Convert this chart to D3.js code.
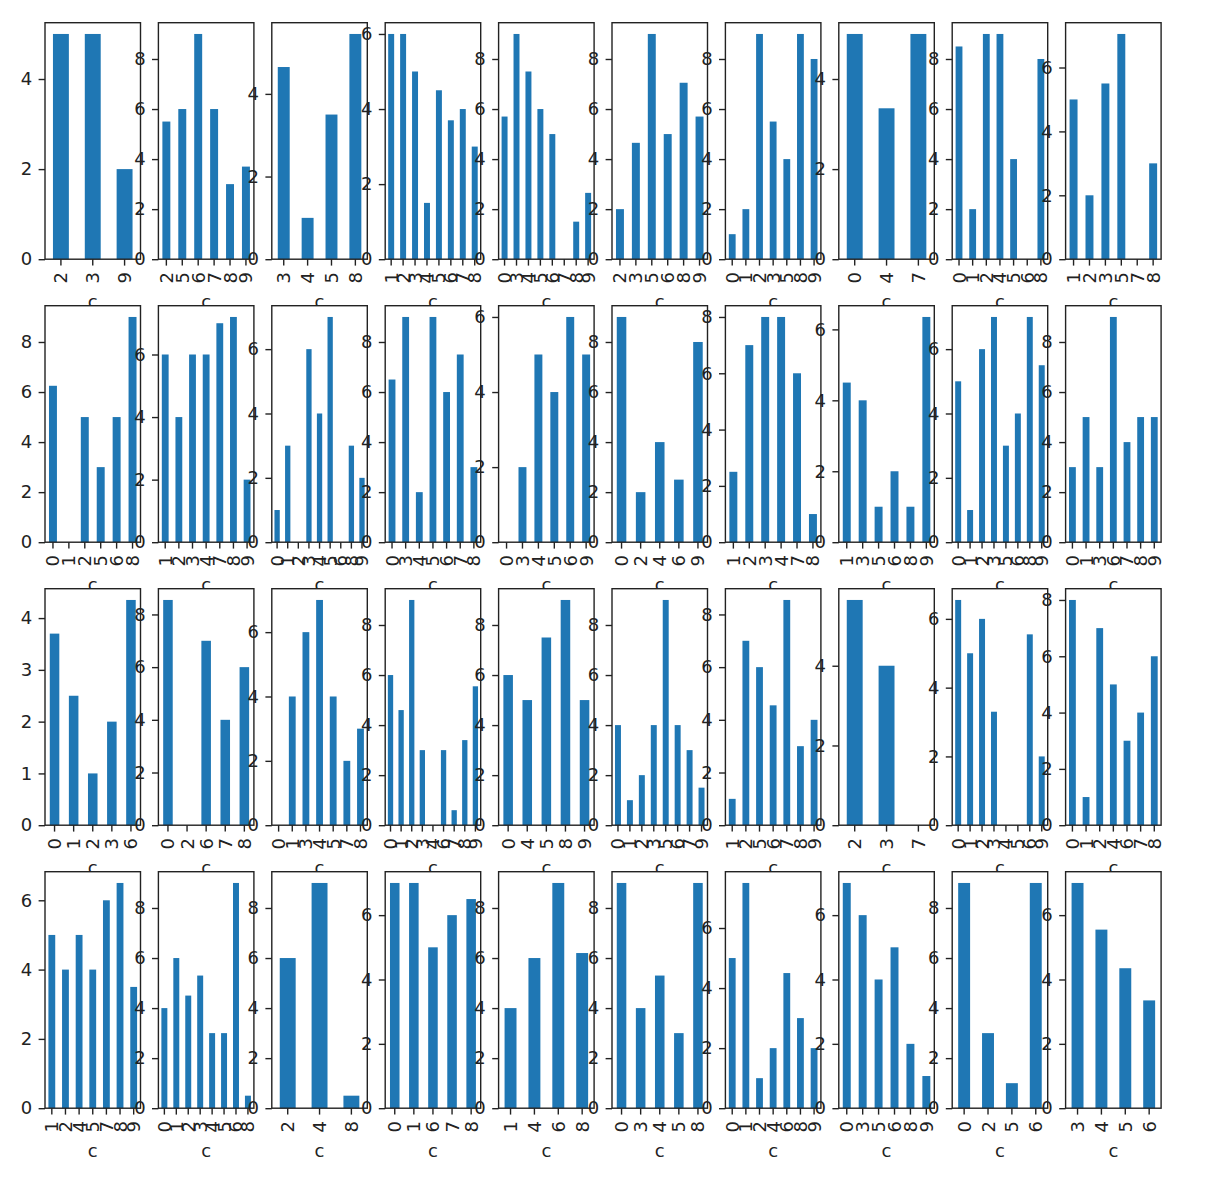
<!DOCTYPE html>
<html>
<head>
<meta charset="utf-8">
<script src="https://cdn.jsdelivr.net/npm/d3@7"></script>
<style>
  body { margin: 0; background: #fff; }
  text { font-family: "DejaVu Sans", sans-serif; fill: #222; }
</style>
</head>
<body>
<div id="chart"></div>
<script>
// categories (x tick labels) and bar heights, one entry per small panel, row by row
var cats1 = [[2,3,9],[2,5,6,7,8,9],[3,4,5,8],[1,2,3,4,5,6,7,8],[0,3,4,5,6,7,8,9],
             [2,3,5,6,8,9],[0,1,2,3,5,8,9],[0,4,7],[0,1,2,4,5,6,8],[1,2,3,5,7,8]];
var vals1 = [[5,5,2],[5.5,6,9,6,3,3.7],[4.65,1,3.5,5.45],[6,6,5,1.5,4.5,3.7,4,3],[5.7,9,7.5,6,5,0,1.5,2.65],
             [2,4.65,9,5,7.05,5.7],[1,2,9,5.5,4,9,8],[5,3.35,5],[8.5,2,9,9,4,0,8],[5,2,5.5,7.05,0,3]];

var cats2 = [[0,1,2,5,6,8],[1,2,3,4,7,8,9],[0,1,2,3,4,5,6,8,9],[0,3,4,5,6,7,8],[0,3,4,5,6,9],
             [0,2,4,6,9],[1,2,3,4,7,8],[1,3,5,6,8,9],[0,1,2,3,5,6,8,9],[0,1,3,6,7,8,9]];
var vals2 = [[6.25,0,5,3,5,9],[6,4,6,6,7,7.2,2],[1,3,0,6,4,7,0,3,2],[6.5,9,2,9,6,7.5,3],[0,2,5,4,6,5],
             [9,2,4,2.5,8],[2.5,7,8,8,6,1],[4.5,4,1,2,1,6.35],[5,1,6,7,3,4,7,5.5],[3,5,3,9,4,5,5]];

var cats3 = [[0,1,2,3,6],[0,2,6,7,8],[0,1,3,4,5,7,8],[0,1,2,3,4,6,7,8,9],[0,4,5,8,9],
             [0,1,2,3,5,6,7,9],[1,2,5,6,7,8,9],[2,3,7],[0,1,2,3,4,5,6,9],[0,1,2,4,6,7,8]];
var vals3 = [[3.7,2.5,1,2,4.35],[8.55,0,7,4,6],[0,4,6,7,4,2,3],[6,4.6,9,3,0,3,0.6,3.4,5.55],[6,5,7.5,9,5],
             [4,1,2,4,9,4,3,1.5],[1,7,6,4.55,8.55,3,4],[5.65,4,0],[6.55,5,6,3.3,0,0,5.55,2],[8,1,7,5,3,4,6]];

var cats4 = [[1,2,4,5,7,8,9],[0,1,2,3,4,5,6,8],[2,4,8],[0,1,6,7,8],[1,4,6,8],
             [0,3,4,5,8],[0,1,2,4,6,8,9],[0,3,5,6,8,9],[0,2,5,6],[3,4,5,6]];
var vals4 = [[5,4,5,4,6,6.5,3.5],[4,6,4.5,5.3,3,3,9,0.5],[6,9,0.5],[7,7,5,6,6.5],[4,6,9,6.2],
             [9,4,5.3,3,9],[5,7.5,1,2,4.5,3,2],[7,6,4,5,2,1],[9,3,1,9],[7,5.55,4.35,3.35]];

var xLabel = "c";

var rows = [[cats1, vals1], [cats2, vals2], [cats3, vals3], [cats4, vals4]];

var width = 1206, height = 1178,
    left0 = 45, colStep = 113.4, axW = 95.5,
    top0 = 22.7, rowStep = 283, axH = 236.5,
    tickLen = 6.4, tickPad = 6.4,
    fontSize = 18,
    lineColor = "#222",
    barColor = "#1f77b4";

// matplotlib-like tick step: smallest nice step >= range / 5
function niceStep(top) {
  var raw = top / 5,
      p = Math.pow(10, Math.floor(Math.log10(raw)));
  return [1, 2, 2.5, 5, 10].map(function(m) { return m * p; })
    .find(function(v) { return v >= raw - 1e-9; });
}

var svg = d3.select("#chart")
  .append("svg")
  .attr("width", width)
  .attr("height", height);

svg.append("rect").attr("width", width).attr("height", height).attr("fill", "#fff");

rows.forEach(function(row, r) {
  var cats = row[0], vals = row[1];
  cats.forEach(function(labels, c) {
    var values = vals[c];
    var g = svg.append("g")
      .attr("transform", "translate(" + (left0 + colStep * c) + "," + (top0 + rowStep * r) + ")");

    var x = d3.scaleBand()
      .domain(labels)
      .range([0, axW])
      .paddingInner(0.5)
      .paddingOuter(0.25);

    var yMax = d3.max(values) * 1.05;
    var y = d3.scaleLinear().domain([0, yMax]).range([axH, 0]);
    var step = niceStep(yMax);
    var yTicks = d3.range(0, yMax + 1e-9, step);

    // axes background
    g.append("rect")
      .attr("width", axW)
      .attr("height", axH)
      .attr("fill", "#fff");

    g.selectAll("rect.bar")
      .data(values)
      .enter()
      .append("rect")
      .attr("class", "bar")
      .attr("x", function(d, i) { return x(labels[i]); })
      .attr("y", function(d) { return y(d); })
      .attr("width", x.bandwidth())
      .attr("height", function(d) { return axH - y(d); })
      .attr("fill", barColor);

    // frame
    g.append("rect")
      .attr("width", axW)
      .attr("height", axH)
      .attr("fill", "none")
      .attr("stroke", lineColor)
      .attr("stroke-width", 1.4);

    // y axis
    var yAxis = d3.axisLeft(y)
      .tickValues(yTicks)
      .tickFormat(d3.format("d"))
      .tickSize(tickLen)
      .tickPadding(tickPad);
    var ya = g.append("g").call(yAxis);
    ya.select(".domain").remove();
    ya.selectAll("line").attr("stroke", lineColor).attr("stroke-width", 1.4);
    ya.selectAll("text")
      .attr("font-size", fontSize)
      .attr("font-family", "DejaVu Sans, sans-serif")
      .attr("fill", lineColor);

    // x axis with rotated labels
    var xAxis = d3.axisBottom(x).tickSize(tickLen).tickSizeOuter(0);
    var xa = g.append("g").attr("transform", "translate(0," + axH + ")").call(xAxis);
    xa.select(".domain").remove();
    xa.selectAll("line").attr("stroke", lineColor).attr("stroke-width", 1.4);
    xa.selectAll("text")
      .attr("font-size", fontSize)
      .attr("font-family", "DejaVu Sans, sans-serif")
      .attr("fill", lineColor)
      .attr("y", 0)
      .attr("dy", null)
      .attr("transform", "translate(0," + (tickLen + tickPad) + ") rotate(-90)")
      .attr("dominant-baseline", "central")
      .style("text-anchor", "end");

    g.append("text")
      .attr("x", axW / 2)
      .attr("y", axH + 49)
      .attr("font-size", fontSize)
      .style("text-anchor", "middle")
      .text(xLabel);
  });
});
</script>
</body>
</html>
